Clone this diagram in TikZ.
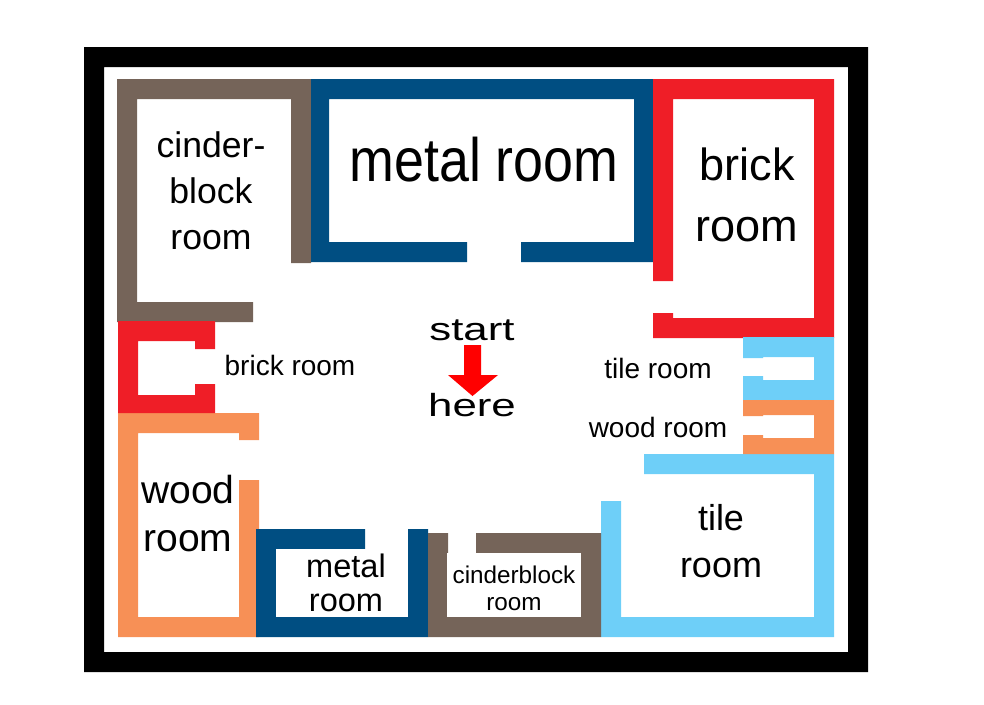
\documentclass[tikz,border=0pt]{standalone}
\usepackage{fontspec}
\setmainfont{Liberation Sans}
\definecolor{cinderc}{RGB}{117,100,89}
\definecolor{metalc}{RGB}{0,78,130}
\definecolor{brickc}{RGB}{239,30,39}
\definecolor{woodc}{RGB}{247,144,86}
\definecolor{tilec}{RGB}{110,207,248}
\tikzset{
    label/.style n args={2}{font=\fontsize{#1}{#2}\selectfont,align=center,inner sep=0pt},
}
\begin{document}
\begin{tikzpicture}[x=0.75pt,y=-0.75pt]
\useasboundingbox (0,0) rectangle (984,704);

% Frame
\fill[black,even odd rule] (84,47) rectangle (868,672) (104,67) rectangle (848,652);

% Big rooms
\fill[tilec] (601,501) -- (621,501) -- (621,617) -- (814,617) -- (814,474) -- (644,474) -- (644,454) -- (834,454) -- (834,637) -- (601,637) -- cycle;
\fill[woodc] (118,413) -- (259,413) -- (259,440) -- (239,440) -- (239,433) -- (138,433) -- (138,617) -- (239,617) -- (239,480) -- (259,480) -- (259,637) -- (118,637) -- cycle;
\fill[cinderc] (117,79) -- (311,79) -- (311,263) -- (291,263) -- (291,99) -- (137,99) -- (137,302) -- (253,302) -- (253,322) -- (117,322) -- cycle;
\fill[metalc] (311,79) -- (653,79) -- (653,262) -- (521,262) -- (521,242) -- (634,242) -- (634,99) -- (329,99) -- (329,242) -- (467,242) -- (467,262) -- (311,262) -- cycle;
\fill[brickc] (653,79) -- (834,79) -- (834,338) -- (653,338) -- (653,313) -- (673,313) -- (673,318) -- (814,318) -- (814,99) -- (673,99) -- (673,281) -- (653,281) -- cycle;

% Small rooms
\fill[brickc] (118,321) -- (215,321) -- (215,349) -- (195,349) -- (195,341) -- (138,341) -- (138,395) -- (195,395) -- (195,384) -- (215,384) -- (215,413) -- (118,413) -- cycle;
\fill[tilec] (743,337) -- (834,337) -- (834,400) -- (743,400) -- (743,376) -- (763,376) -- (763,380) -- (814,380) -- (814,357) -- (763,357) -- (763,358) -- (743,358) -- cycle;
\fill[woodc] (743,400) -- (834,400) -- (834,454) -- (743,454) -- (743,435) -- (763,435) -- (763,438) -- (814,438) -- (814,415) -- (763,415) -- (763,416) -- (743,416) -- cycle;
\fill[metalc] (256,529) -- (365,529) -- (365,549) -- (408,549) -- (408,529) -- (428,529) -- (428,637) -- (256,637) -- cycle;
\fill[white] (276,549) rectangle (408,617);
\fill[cinderc] (428,533) -- (448,533) -- (448,553) -- (476,553) -- (476,533) -- (601,533) -- (601,637) -- (428,637) -- cycle;
\fill[white] (447,553) rectangle (581,617);

% Start arrow
\fill[red] (464,345) -- (481,345) -- (481,375) -- (498,375) -- (472.5,396) -- (448,375) -- (464,375) -- cycle;

% Room labels
\node[label={26.7}{34.5}] (cinderlabel) at (211,191) {cinder-\\block\\room};
\node[label={46}{46}] (metallabel) at (484,160) {\scalebox{0.877}[1]{metal room}};
\node[label={33.8}{45.8}] (bricklabel) at (747,195) {brick\\room};
\node[label={21}{21}] (smallbricklabel) at (290,365) {brick room};
\node[label={21}{21}] (tilesmalllabel) at (658,368) {tile room};
\node[label={21}{21}] (woodsmalllabel) at (658,427) {wood room};
\node[label={24}{24}] (startlabel) at (472,330) {\scalebox{1.37}[1]{start}};
\node[label={24}{24}] (herelabel) at (472,405) {\scalebox{1.37}[1]{here}};
\node[label={29.3}{36}] (woodlabel) at (188,514) {wood\\room};
\node[label={24.4}{26}] (metalsmalllabel) at (346,583) {metal\\room};
\node[label={18.2}{20.5}] (cindersmalllabel) at (514,588) {cinderblock\\room};
\node[label={27}{35}] (tilelabel) at (721,541) {tile\\room};

\end{tikzpicture}
\end{document}
